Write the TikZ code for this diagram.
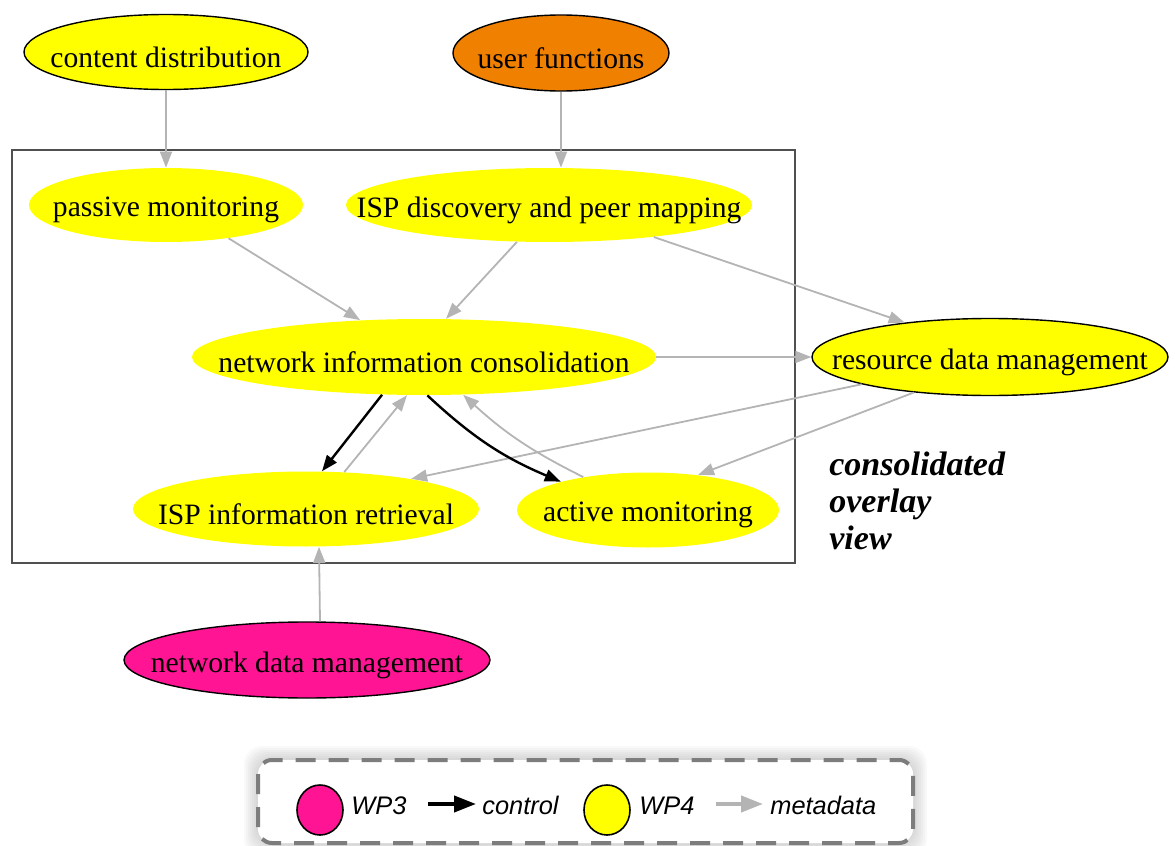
\documentclass[tikz,border=0pt]{standalone}
\usepackage{fontspec}
\setmainfont{Liberation Serif}
\setsansfont{Liberation Sans}
\usetikzlibrary{arrows.meta,shapes.geometric,positioning}
\definecolor{wpyellow}{RGB}{255,255,0}
\definecolor{wporange}{RGB}{240,128,0}
\definecolor{wppink}{RGB}{255,20,147}
\definecolor{metagray}{RGB}{180,180,180}
\definecolor{framegray}{RGB}{80,80,80}
\definecolor{dashgray}{RGB}{125,125,125}
\tikzset{
    %Define standard arrow tip
    >={Triangle[length=8pt,width=6pt]},
    %Define style for the ellipses
    blob/.style={
           ellipse,
           inner sep=0pt,
           fill=wpyellow},
    outer blob/.style={
           blob,
           draw=black, line width=0.7pt},
    every label/.style={yshift=-2.5pt},
    % Define arrow styles
    meta/.style={
           -{Triangle[length=8pt,width=6pt]},
           color=metagray,
           line width=0.9pt},
    ctrl/.style={
           -{Triangle[length=8pt,width=6pt]},
           color=black,
           line width=1.2pt},
    % legend
    legend dot/.style={
           ellipse,
           draw=black, line width=0.8pt,
           minimum width=23pt,
           minimum height=25pt},
    legend text/.style={
           anchor=base west,
           inner sep=0pt,
           font=\fontsize{12.7}{15}\selectfont\sffamily\itshape},
    legend arrow/.style={
           -{Triangle[length=11pt,width=8pt]},
           line width=2pt}
}
\begin{document}
\begin{tikzpicture}[x=0.5pt,y=-0.5pt,font=\fontsize{14.8}{17}\selectfont]
\useasboundingbox (0,0) rectangle (1175,846);

% frame of the overlay view
\draw[framegray, line width=1pt] (12,150) rectangle (795,563);

\node[outer blob, minimum width=142pt, minimum height=37.5pt, label=center:content distribution] (cd) at (166,52) {};
\node[outer blob, fill=wporange, minimum width=108pt, minimum height=38pt, label=center:user functions] (uf) at (561,53) {};
\node[blob, minimum width=137pt, minimum height=37pt, label=center:passive monitoring] (pm) at (166,205) {};
\node[blob, minimum width=203pt, minimum height=37pt, label=center:ISP discovery and peer mapping] (ispd) at (549,205) {};
\node[blob, minimum width=232pt, minimum height=38pt, label=center:network information consolidation] (nic) at (424,357) {};
\node[outer blob, minimum width=178pt, minimum height=38.5pt, label=center:resource data management] (rdm) at (990,357) {};
\node[blob, minimum width=173pt, minimum height=37.5pt, label=center:ISP information retrieval] (ispr) at (306,509) {};
\node[blob, minimum width=131pt, minimum height=37.5pt, label=center:active monitoring] (am) at (648,510) {};
\node[outer blob, fill=wppink, minimum width=183pt, minimum height=38pt, label=center:network data management] (ndm) at (307,660) {};

\node[anchor=base west, align=left, inner sep=0pt,
      font=\fontsize{17}{18.5}\selectfont\bfseries\itshape] (view) at (829,549) {consolidated\\overlay\\view};

 \path[meta]
    (cd) edge (pm)
    (uf) edge (uf |- ispd.north)
    (pm.-28) edge (nic.150)
    (ispd.229) edge (nic.60)
    (ispd.-17) edge (rdm.158)
    (nic.east) edge (rdm.west)
    (rdm.192) edge (ispr.16)
    (rdm.205) edge (am.35)
    (ispr.44) edge (nic.246)
    (am.153) edge[bend left=8] (nic.-44)
    ([xshift=6.5pt]ndm.north) edge ([xshift=6.5pt]ispr.south);
 \path[ctrl]
    (nic.222) edge (ispr.67)
    (nic.-85) edge[bend right=10] (am.162);

% legend
\foreach \g in {1,...,7}
  \fill[black, opacity=0.025, rounded corners=9pt] (258-2*\g,760-2*\g) rectangle (913+2*\g,843+2*\g);
\draw[dashgray, fill=white, line width=2pt, rounded corners=7pt, dash pattern=on 10pt off 6.5pt]
   (258,760) rectangle (913,843);
\node[legend dot, fill=wppink] (lpink) at (320,810) {};
\node[legend text] (lwp3) at (351,814) {WP3};
\coordinate (lca) at (428,804);
\coordinate (lcb) at (476,804);
\draw[legend arrow, black] (lca) -- (lcb);
\node[legend text] (lctrl) at (482,814) {control};
\node[legend dot, fill=wpyellow] (lyellow) at (607,810) {};
\node[legend text] (lwp4) at (639,814) {WP4};
\coordinate (lma) at (716,804);
\coordinate (lmb) at (763,804);
\draw[legend arrow, metagray] (lma) -- (lmb);
\node[legend text] (lmeta) at (770,814) {metadata};

\end{tikzpicture}
\end{document}
